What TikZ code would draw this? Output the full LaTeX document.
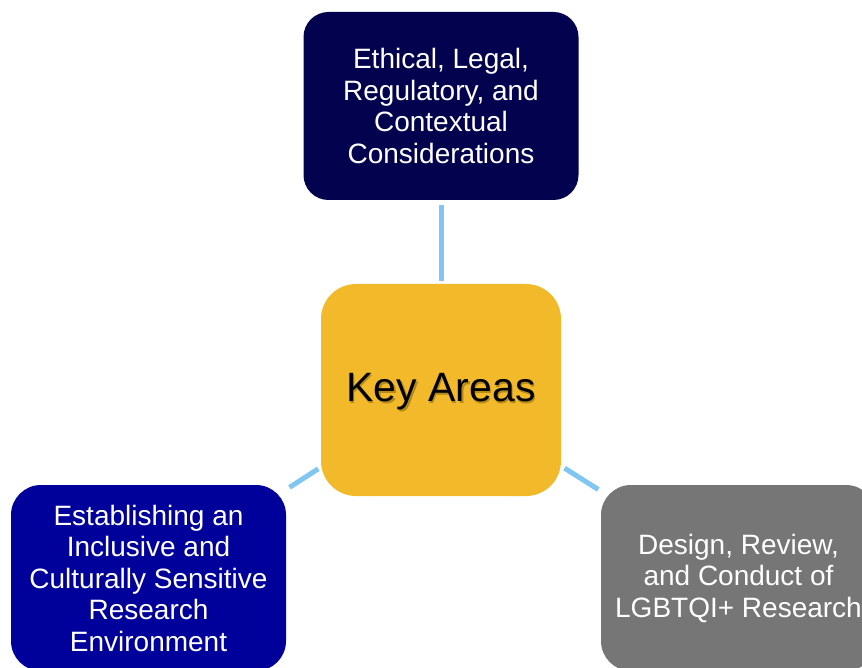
\documentclass[tikz,border=0pt]{standalone}
\usepackage{fontspec}
\setmainfont{Liberation Sans}
\definecolor{navy}{HTML}{02024F}
\definecolor{royal}{HTML}{00009A}
\definecolor{greybox}{HTML}{767676}
\definecolor{gold}{HTML}{F2B92B}
\definecolor{shadowc}{HTML}{8A6A10}
\definecolor{linkc}{HTML}{7FC6F0}
\tikzset{
  box/.style={rectangle, inner sep=0pt, align=center, text=white,
    font=\fontsize{28}{31.5}\selectfont},
  link/.style={draw=linkc, line width=5pt}
}
\begin{document}
\begin{tikzpicture}[x=1pt,y=-1pt]
\useasboundingbox (0,0) rectangle (862,668);
\clip (0,0) rectangle (862,668);
\node[box, fill=navy, rounded corners=25pt, minimum width=275pt, minimum height=188pt] (top) at (441,106) {Ethical, Legal,\\Regulatory, and\\Contextual\\Considerations};
\node[box, fill=gold, rounded corners=35pt, minimum width=240pt, minimum height=212pt] (center) at (441,390) {};
\node[text=shadowc, font=\fontsize{41}{50}\selectfont, opacity=0.6] (keyshadow) at (442.5,393.5) {Key Areas};
\node[text=black, font=\fontsize{41}{50}\selectfont] (key) at (441,392) {Key Areas};
\node[box, fill=royal, rounded corners=30pt, minimum width=275pt, minimum height=186pt] (left) at (148.5,578) {Establishing an\\Inclusive and\\Culturally Sensitive\\Research\\Environment};
\node[box, fill=greybox, rounded corners=30pt, minimum width=275pt, minimum height=186pt] (right) at (738.5,578) {Design, Review,\\and Conduct of\\LGBTQI+ Research};
\draw[link, shorten <=5pt, shorten >=3pt] (top) -- (center);
\draw[link, shorten <=3pt, shorten >=4pt] (center) -- (left);
\draw[link, shorten <=4pt, shorten >=3pt] (center) -- (right);
\end{tikzpicture}
\end{document}
